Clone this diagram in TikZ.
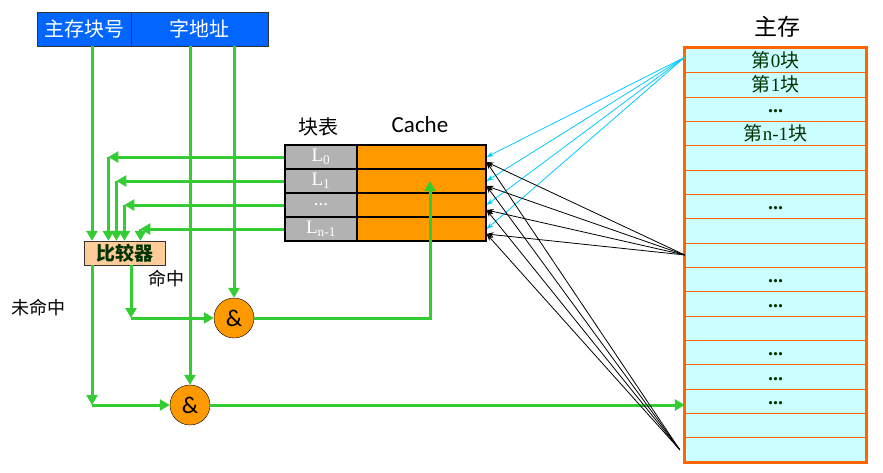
\documentclass[tikz,border=0pt]{standalone}
\usepackage{fontspec}
\setmainfont{Liberation Serif}
\newfontfamily\cjk{Noto Sans CJK SC}
\newfontfamily\cachefont{Carlito}
\usetikzlibrary{arrows.meta}
\definecolor{greenwire}{RGB}{51,204,51}
\definecolor{addrblue}{RGB}{0,102,255}
\definecolor{cacheorange}{RGB}{255,153,0}
\definecolor{memorange}{RGB}{255,102,0}
\definecolor{memfill}{RGB}{204,255,255}
\definecolor{taggray}{RGB}{178,178,178}
\definecolor{cmpfill}{RGB}{255,204,153}
\definecolor{darkgreen}{RGB}{0,51,0}
\definecolor{skyline}{RGB}{0,204,255}
\newcommand\zh[1]{{\cjk #1}}

\begin{document}
\begin{tikzpicture}[x=1pt,y=-1pt,
  addr/.style={draw=black!80,fill=addrblue,text=white,minimum height=34pt,inner sep=0pt,
    font=\cjk\fontsize{20}{22}\selectfont},
  tagcell/.style={draw,line width=1.2pt,fill=taggray,text=white,minimum width=72pt,minimum height=24pt,
    inner sep=0pt,font=\fontsize{19}{21}\selectfont},
  cachecell/.style={draw,line width=1.2pt,fill=cacheorange,minimum width=129pt,minimum height=24pt},
  memrow/.style={draw=memorange,fill=memfill,minimum width=181pt,minimum height=24.35pt,inner sep=0pt},
  memtext/.style={text=darkgreen,font=\fontsize{19}{21}\selectfont,inner sep=0pt},
  dots/.style={text=darkgreen,font=\bfseries\fontsize{20}{22}\selectfont,inner sep=0pt},
  andgate/.style={circle,draw,fill=cacheorange,minimum size=40pt,inner sep=0pt,
    font=\cachefont\fontsize{24}{26}\selectfont},
  gline/.style={draw=greenwire,line width=3pt,-{Triangle[length=10pt,width=11pt]}},
  mapline/.style={line width=0.8pt,-{Stealth[length=7pt,width=5pt]}}]
  \useasboundingbox[fill=white] (0,0) rectangle (883,472);
  % address register
  \node[addr,minimum width=94pt] (blk) at (84,29) {主存块号};
  \node[addr,minimum width=137pt] (word) at (199.5,29) {字地址};
  % tag table and cache
  \node[font=\cjk\fontsize{20}{22}\selectfont] (tagtitle) at (318,127) {块表};
  \node[font=\cachefont\fontsize{23}{25}\selectfont] (cachetitle) at (420,125) {Cache};
  \node[tagcell] (t0) at (321,157) {L\textsubscript{0}};
  \node[tagcell] (t1) at (321,181) {L\textsubscript{1}};
  \node[tagcell] (t2) at (321,205) {...};
  \node[tagcell] (t3) at (321,229) {L\textsubscript{n-1}};
  \node[cachecell] (c0) at (421.5,157) {};
  \node[cachecell] (c1) at (421.5,181) {};
  \node[cachecell] (c2) at (421.5,205) {};
  \node[cachecell] (c3) at (421.5,229) {};
  % comparator and gates
  \node[draw=black!80,fill=cmpfill,text=darkgreen,minimum width=81pt,minimum height=24pt,inner sep=0pt,
    font=\cjk\bfseries\fontsize{19}{21}\selectfont] (cmp) at (124.5,253) {比较器};
  \node[andgate] (and1) at (234,318) {\&};
  \node[andgate] (and2) at (190,405) {\&};
  \node[font=\cjk\fontsize{18}{20}\selectfont] (hit) at (166,279) {命中};
  \node[font=\cjk\fontsize{18}{20}\selectfont] (miss) at (39,308) {未命中};
  % main memory
  \node[font=\cjk\fontsize{23}{25}\selectfont] (memtitle) at (777,27) {主存};
  \foreach \i in {0,...,16}
    \node[memrow] (m\i) at (775.5,{48+24.35*(\i+0.5)}) {};
  \draw[memorange,line width=3pt] (m0.north west) rectangle (m16.south east);
  \node[memtext] at (m0) {\zh{第}0\zh{块}};
  \node[memtext] at (m1) {\zh{第}1\zh{块}};
  \node[memtext] at (m3) {\zh{第}n-1\zh{块}};
  \foreach \i in {2,6,9,10,12,13,14}
    \node[dots] at ([yshift=-2pt]m\i) {...};
  % address lines
  \draw[gline] ([xshift=8pt]blk.south) -- ([xshift=8pt]blk.south |- cmp.north);
  \draw[gline] (word.south -| and2) -- (and2.north);
  \draw[gline] (word.south -| and1) -- (and1.north);
  % tags to comparator
  \draw[gline] (t0.west) -- ++(-176,0) coordinate (k0);
  \draw[gline] (k0) -- (k0 |- cmp.north);
  \draw[gline] (t1.west) -- ++(-168,0) coordinate (k1);
  \draw[gline] (k1) -- (k1 |- cmp.north);
  \draw[gline] (t2.west) -- ++(-160,0) coordinate (k2);
  \draw[gline] (k2) -- (k2 |- cmp.north);
  \draw[gline] (t3.west) -- ++(-144,0) coordinate (k3);
  \draw[gline] (k3) -- (k3 |- cmp.north);
  % hit / miss
  \draw[gline] ([xshift=6.5pt]cmp.south) coordinate (s1) -- (s1 |- and1.west) coordinate (k5);
  \draw[gline] (k5) -- (and1.west);
  \draw[gline] ([xshift=-32.5pt]cmp.south) coordinate (s0) -- (s0 |- and2.west) coordinate (k4);
  \draw[gline] (k4) -- (and2.west);
  \draw[gline] (and1.east) -| ([xshift=8.5pt]c1.center);
  \draw[gline] (and2.east) -- (and2.east -| m14.west);
  % mapping lines
  \draw[mapline,skyline] ([yshift=3pt]m0.west) -- (c0.east);
  \draw[mapline,skyline] ([yshift=3pt]m0.west) -- (c1.east);
  \draw[mapline,skyline] ([yshift=3pt]m0.west) -- (c2.east);
  \draw[mapline,skyline] ([yshift=3pt]m0.west) -- (c3.east);
  \draw[mapline] (m8.west) -- ([yshift=-5pt]c0.east);
  \draw[mapline] (m8.west) -- ([yshift=-5pt]c1.east);
  \draw[mapline] (m8.west) -- ([yshift=-5pt]c2.east);
  \draw[mapline] (m8.west) -- ([yshift=-5pt]c3.east);
  \draw[mapline] ([xshift=-5pt]m16.west) -- ([yshift=-5pt]c0.east);
  \draw[mapline] ([xshift=-5pt]m16.west) -- ([yshift=-5pt]c1.east);
  \draw[mapline] ([xshift=-5pt]m16.west) -- ([yshift=-5pt]c2.east);
  \draw[mapline] ([xshift=-5pt]m16.west) -- ([yshift=-5pt]c3.east);
\end{tikzpicture}
\end{document}
